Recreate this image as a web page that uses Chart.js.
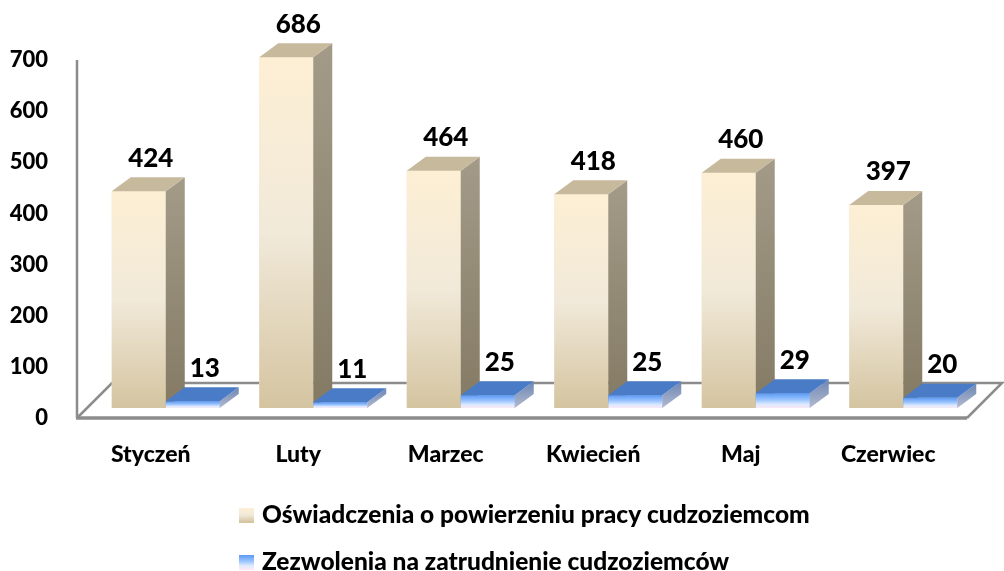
<!DOCTYPE html>
<html lang="pl">
<head>
<meta charset="utf-8">
<title>Oświadczenia i zezwolenia</title>
<script src="https://cdn.jsdelivr.net/npm/chart.js@4.4.1/dist/chart.umd.min.js"></script>
<style>
    html, body { margin: 0; padding: 0; background: #fff; }
    #wrap { width: 1004px; height: 571px; position: relative; }
</style>
</head>
<body>
<div id="wrap"><canvas id="chart"></canvas></div>
<script>
    const months = ["Styczeń", "Luty", "Marzec", "Kwiecień", "Maj", "Czerwiec"];
    const oswiadczenia = [424, 686, 464, 418, 460, 397];
    const zezwolenia = [13, 11, 25, 25, 29, 20];
    const yTicks = [0, 100, 200, 300, 400, 500, 600, 700];
    const seriesNames = ["Oświadczenia o powierzeniu pracy cudzoziemcom", "Zezwolenia na zatrudnienie cudzoziemców"];

    const FONT = "Lato, 'Open Sans', sans-serif";
    const WEIGHT = "900";
    const DX = 19, DY = -14;          // bar depth
    const FDX = 35, FDY = -35;        // floor depth
    const LINE = "#8c8c8c";

    const looks = [
        { front: [[0, "#fdefd4"], [0.5, "#f1e9d9"], [1, "#d4c4a0"]], side: [[0, "#a39b88"], [1, "#847a64"]], top: "#c7b99c" },
        { front: [[0, "#5b99f4"], [0.45, "#9cc5ff"], [0.75, "#dceaff"], [1, "#fae8f6"]], side: [[0, "#6c86b2"], [1, "#b3bad0"]], top: "#4a7bc6" }
    ];

    function grad(ctx, y0, y1, stops) {
        let g = ctx.createLinearGradient(0, y0, 0, y1);
        stops.forEach(s => g.addColorStop(s[0], s[1]));
        return g;
    }

    const floorPlugin = {
        id: "floor",
        beforeDatasetsDraw(chart) {
            let ctx = chart.ctx, a = chart.chartArea, y = chart.scales.y;
            let fy = a.bottom + 10, fl = a.left - 15, fr = a.right - 10;
            ctx.save();
            ctx.strokeStyle = LINE;
            ctx.lineWidth = 2.5;
            ctx.beginPath();
            ctx.moveTo(fl, y.getPixelForValue(700) + 10);
            ctx.lineTo(fl, fy);
            ctx.moveTo(fl, fy);
            ctx.lineTo(fl + FDX, fy + FDY);
            ctx.lineTo(fr + FDX, fy + FDY);
            ctx.lineTo(fr, fy);
            ctx.stroke();
            ctx.lineWidth = 3.5;
            ctx.beginPath();
            ctx.moveTo(fl - 1, fy);
            ctx.lineTo(fr, fy);
            ctx.stroke();
            ctx.restore();
        },
        afterDatasetsDraw(chart) {
            let ctx = chart.ctx;
            ctx.save();
            chart.data.datasets.forEach((ds, di) => {
                let look = looks[di];
                chart.getDatasetMeta(di).data.forEach(bar => {
                    let l = bar.x - bar.width / 2, r = bar.x + bar.width / 2, t = bar.y, b = bar.base;
                    ctx.fillStyle = grad(ctx, t, b, look.front);
                    ctx.fillRect(l, t, r - l, b - t);
                    ctx.beginPath();
                    ctx.moveTo(r, t); ctx.lineTo(r + DX, t + DY); ctx.lineTo(r + DX, b + DY); ctx.lineTo(r, b);
                    ctx.closePath();
                    ctx.fillStyle = grad(ctx, t + DY, b, look.side);
                    ctx.fill();
                    ctx.beginPath();
                    ctx.moveTo(l, t); ctx.lineTo(l + DX, t + DY); ctx.lineTo(r + DX, t + DY); ctx.lineTo(r, t);
                    ctx.closePath();
                    ctx.fillStyle = look.top;
                    ctx.fill();
                });
            });
            // value labels
            ctx.fillStyle = "#000";
            ctx.font = WEIGHT + " 26px " + FONT;
            ctx.textAlign = "center";
            ctx.textBaseline = "middle";
            chart.data.datasets.forEach((ds, di) => {
                chart.getDatasetMeta(di).data.forEach((bar, i) => {
                    ctx.fillText(ds.data[i], bar.x + 12, bar.y - 33);
                });
            });
            ctx.restore();
        },
        afterDraw(chart) {
            let ctx = chart.ctx;
            ctx.save();
            ctx.font = WEIGHT + " 24.5px " + FONT;
            ctx.textBaseline = "middle";
            ctx.textAlign = "left";
            seriesNames.forEach((name, i) => {
                let cy = 515 + i * 47;
                ctx.fillStyle = grad(ctx, cy - 7, cy + 7, looks[i].front);
                ctx.fillRect(239, cy - 7, 15, 15);
                ctx.fillStyle = "#000";
                ctx.fillText(name, 262, cy);
            });
            ctx.restore();
        }
    };

    new Chart(document.getElementById("chart"), {
        type: "bar",
        data: {
            labels: months,
            datasets: [
                { label: seriesNames[0], data: oswiadczenia, backgroundColor: "#efe6d0", borderWidth: 0 },
                { label: seriesNames[1], data: zezwolenia, backgroundColor: "#8fbaf5", borderWidth: 0 }
            ]
        },
        options: {
            responsive: true,
            maintainAspectRatio: false,
            animation: false,
            categoryPercentage: 0.732,
            barPercentage: 1,
            layout: { padding: { top: 50, right: 27, bottom: 103, left: 0 } },
            plugins: { legend: { display: false }, tooltip: { enabled: false } },
            scales: {
                x: {
                    grid: { display: false, drawTicks: false },
                    border: { display: false },
                    ticks: { color: "#000", font: { family: FONT, size: 23, weight: WEIGHT }, padding: 33, labelOffset: -15 },
                    afterFit: s => { s.height = 60; }
                },
                y: {
                    min: 0,
                    max: 700,
                    grid: { display: false, drawTicks: false },
                    border: { display: false },
                    afterBuildTicks: s => { s.ticks = yTicks.map(v => ({ value: v })); },
                    ticks: { color: "#000", font: { family: FONT, size: 22, weight: WEIGHT }, padding: 44, labelOffset: 10 },
                    afterFit: s => { s.width = 92; s.paddingTop = 0; s.paddingBottom = 0; }
                }
            }
        },
        plugins: [floorPlugin]
    });
</script>
</body>
</html>
